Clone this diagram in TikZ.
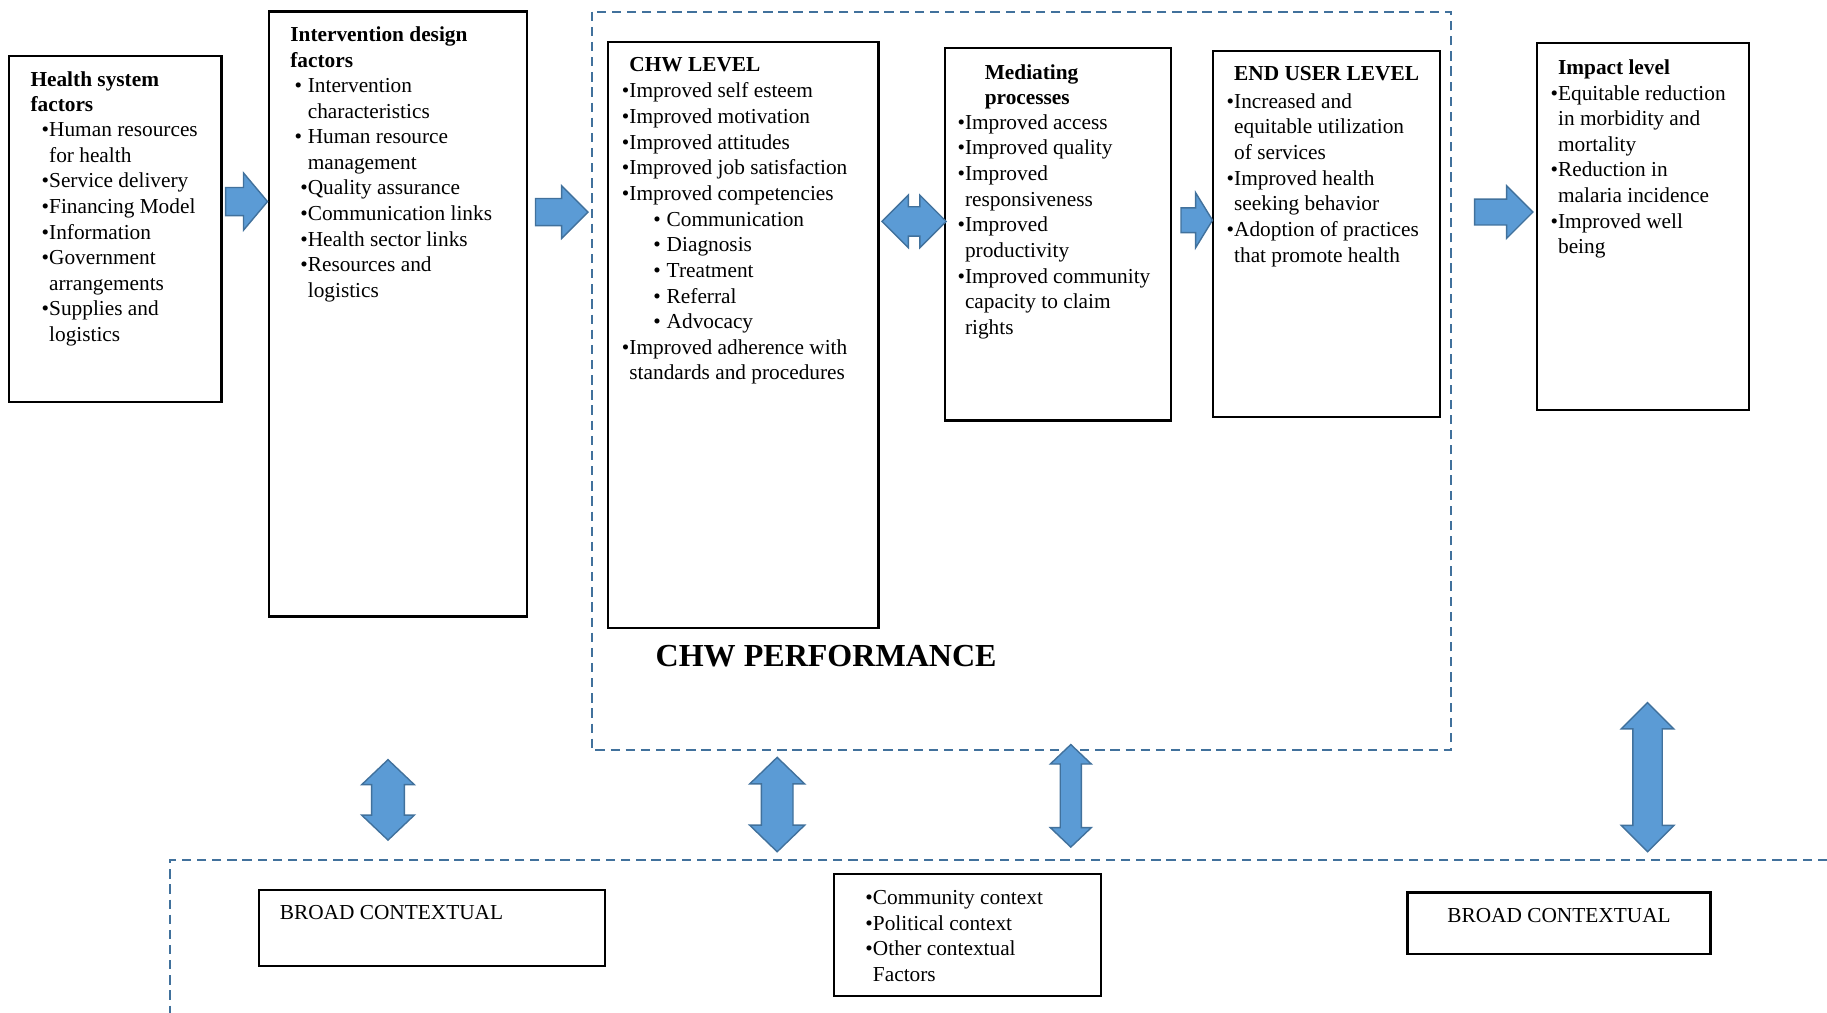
\documentclass[tikz,border=0pt]{standalone}
\usepackage{fontspec}
\setmainfont{Liberation Serif}
\usetikzlibrary{shapes.arrows}

\definecolor{arrowfill}{RGB}{91,155,213}
\definecolor{arrowline}{RGB}{65,113,156}

\newcommand{\bul}{\llap{\textbullet}}
\newcommand{\sbul}{\llap{\textbullet\hspace{5pt}}}
\newcommand{\subbul}{\hspace*{32pt}\llap{\textbullet\hspace{5pt}}}

\tikzset{
  box/.style={draw, line width=2pt, inner sep=0pt},
  hd/.style={anchor=north west, inner sep=0pt, align=left, font=\fontsize{18.3}{22}\selectfont\bfseries},
  lst/.style={anchor=north west, inner sep=0pt, align=left, font=\fontsize{18.3}{22}\selectfont},
  blockarrow/.style={single arrow, anchor=tail, draw=arrowline, fill=arrowfill, line width=1.2pt, inner xsep=0pt, single arrow head indent=0pt},
  dblarrow/.style={double arrow, draw=arrowline, fill=arrowfill, line width=1.2pt, inner xsep=0pt, double arrow head indent=0pt},
  ctxline/.style={draw=arrowline, line width=1.8pt, dash pattern=on 8pt off 5pt}
}

\begin{document}
\begin{tikzpicture}[x=1pt,y=-1pt]
    \useasboundingbox (0,0) rectangle (1568,869);

    % dashed frames
    \draw[ctxline] (508,10) rectangle (1245,644);
    \draw[ctxline] (1568,738) -- (146,738) -- (146,869);

    % boxes
    \node[box, minimum width=182pt, minimum height=297pt] (hsf) at (99,196.5) {};
    \node[box, minimum width=221pt, minimum height=519pt] (idf) at (341.5,269.5) {};
    \node[box, minimum width=232pt, minimum height=503pt] (chw) at (638,287.5) {};
    \node[box, minimum width=194pt, minimum height=320pt] (med) at (908,201) {};
    \node[box, minimum width=195pt, minimum height=314pt] (eul) at (1138.5,201) {};
    \node[box, minimum width=182pt, minimum height=315pt] (imp) at (1410,194.5) {};
    \node[box, minimum width=297pt, minimum height=65pt] (bc1) at (370.5,796.5) {};
    \node[box, minimum width=229pt, minimum height=105pt] (ctx) at (830.5,802.5) {};
    \node[box, minimum width=260pt, minimum height=53pt] (bc2) at (1338,792.5) {};

    % texts
    \node[hd] (hsf-h) at (26,61) {Health system\\factors};
    \node[lst] (hsf-l) at (42,105) {\bul Human resources\\for health\\\bul Service delivery\\\bul Financing Model\\\bul Information\\\bul Government\\arrangements\\\bul Supplies and\\logistics};

    \node[hd] (idf-h) at (249,23) {Intervention design\\factors};
    \node[lst] (idf-l) at (264,67) {\sbul Intervention\\characteristics\\\sbul Human resource\\management\\\bul Quality assurance\\\bul Communication links\\\bul Health sector links\\\bul Resources and\\logistics};

    \node[hd] (chw-h) at (540,49) {CHW LEVEL};
    \node[lst] (chw-l) at (540,71) {\bul Improved self esteem\\\bul Improved motivation\\\bul Improved attitudes\\\bul Improved job satisfaction\\\bul Improved competencies\\\subbul Communication\\\subbul Diagnosis\\\subbul Treatment\\\subbul Referral\\\subbul Advocacy\\\bul Improved adherence with\\standards and procedures};

    \node[hd] (med-h) at (845,55) {Mediating\\processes};
    \node[lst] (med-l) at (828,98) {\bul Improved access\\\bul Improved quality\\\bul Improved\\responsiveness\\\bul Improved\\productivity\\\bul Improved community\\capacity to claim\\rights};

    \node[hd] (eul-h) at (1059,57) {END USER LEVEL};
    \node[lst] (eul-l) at (1059,80) {\bul Increased and\\equitable utilization\\of services\\\bul Improved health\\seeking behavior\\\bul Adoption of practices\\that promote health};

    \node[hd] (imp-h) at (1337,51) {Impact level};
    \node[lst] (imp-l) at (1337,73) {\bul Equitable reduction\\in morbidity and\\mortality\\\bul Reduction in\\malaria incidence\\\bul Improved well\\being};

    \node[lst] (bc1-t) at (240,777) {BROAD CONTEXTUAL};
    \node[lst] (ctx-l) at (749,764) {\bul Community context\\\bul Political context\\\bul Other contextual\\Factors};
    \node[lst] (bc2-t) at (1242,779) {BROAD CONTEXTUAL};

    \node[font=\fontsize{27.5}{32}\selectfont\bfseries] (perf) at (709,563) {CHW PERFORMANCE};

    % block arrows
    \node[blockarrow, inner ysep=11.5pt, minimum height=36pt, minimum width=48pt, single arrow head extend=12.5pt, single arrow tip angle=100] (a1) at (193,173) {};
    \node[blockarrow, inner ysep=11pt, minimum height=45pt, minimum width=44pt, single arrow head extend=11pt] (a2) at (459,182) {};
    \node[dblarrow, inner ysep=12pt, minimum height=55pt, minimum width=44pt, double arrow head extend=10pt] (a3) at (784.5,190) {};
    \node[blockarrow, inner ysep=10pt, minimum height=27pt, minimum width=46pt, single arrow head extend=13pt, single arrow tip angle=117] (a4) at (1013,189) {};
    \node[blockarrow, inner ysep=10.5pt, minimum height=50pt, minimum width=44pt, single arrow head extend=11.5pt] (a5) at (1265,182) {};

    \node[dblarrow, rotate=90, inner ysep=13.5pt, minimum height=69pt, minimum width=44pt, double arrow head extend=8.5pt, double arrow tip angle=93] (v1) at (333,686.5) {};
    \node[dblarrow, rotate=90, inner ysep=13pt, minimum height=81pt, minimum width=46pt, double arrow head extend=10pt, double arrow tip angle=92] (v2) at (667,690.5) {};
    \node[dblarrow, rotate=90, inner ysep=8.5pt, minimum height=88pt, minimum width=34pt, double arrow head extend=8.5pt, double arrow tip angle=93] (v3) at (919,683) {};
    \node[dblarrow, rotate=90, inner ysep=12pt, minimum height=128pt, minimum width=44pt, double arrow head extend=10pt] (v4) at (1414,667) {};
\end{tikzpicture}
\end{document}
